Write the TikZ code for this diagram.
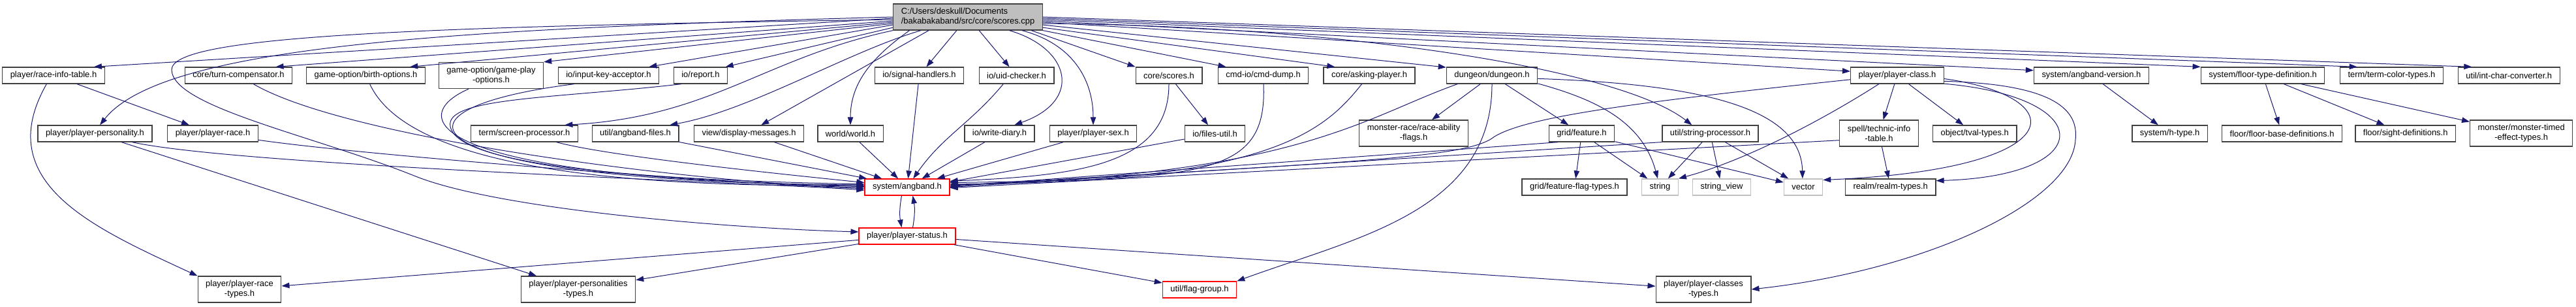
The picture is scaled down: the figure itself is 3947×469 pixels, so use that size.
\documentclass[tikz,border=0pt]{standalone}
\usepackage{fontspec}
\setmainfont{Liberation Sans}
\usetikzlibrary{arrows.meta}

\definecolor{edgeblue}{HTML}{191970}
\definecolor{boxline}{HTML}{404040}
\definecolor{rootgray}{HTML}{BFBFBF}
\definecolor{stdline}{HTML}{BFBFBF}

\tikzset{
  hdr/.style={draw=boxline, fill=white, line width=1.3pt, minimum height=25pt,
    inner xsep=12pt, inner ysep=0pt, align=center,
    font=\fontsize{12.95}{15}\selectfont},
  hdrtwo/.style={hdr, minimum height=40pt},
  redhdr/.style={hdr, draw=red},
  stdhdr/.style={hdr, draw=stdline},
  srcfile/.style={hdr, fill=rootgray, minimum height=40pt, align=left},
  incl/.style={draw=edgeblue, line width=1pt, -{Triangle[length=12pt,width=8.5pt]}},
}

\begin{document}
\begin{tikzpicture}[x=1pt,y=1pt]
  \useasboundingbox (0,0) rectangle (3947,469);

  % the source file
  \node[srcfile] (root) at (1483,443) {C:/Users/deskull/Documents\\/bakabakaband/src/core/scores.cpp};

  % first row
  \node[hdr] (rit) at (82,353.5) {player/race-info-table.h};
  \node[hdr] (turn) at (365.5,353.5) {core/turn-compensator.h};
  \node[hdr] (birth) at (560.5,353.5) {game-option/birth-options.h};
  \node[hdrtwo] (gplay) at (752.5,353.5) {game-option/game-play\\-options.h};
  \node[hdr] (inkey) at (932.5,353.5) {io/input-key-acceptor.h};
  \node[hdr] (report) at (1073.5,353.5) {io/report.h};
  \node[hdr] (signal) at (1408.5,353.5) {io/signal-handlers.h};
  \node[hdr] (uid) at (1557.5,353.5) {io/uid-checker.h};
  \node[hdr] (scoresh) at (1791,353.5) {core/scores.h};
  \node[hdr] (dump) at (1935.5,353.5) {cmd-io/cmd-dump.h};
  \node[hdr] (asking) at (2098,353.5) {core/asking-player.h};
  \node[hdr] (dungeon) at (2286,353.5) {dungeon/dungeon.h};
  \node[hdr] (pclass) at (2907,353.5) {player/player-class.h};
  \node[hdr] (version) at (3204.4,353.5) {system/angband-version.h};
  \node[hdr] (floordef) at (3467,353.5) {system/floor-type-definition.h};
  \node[hdr] (tcolor) at (3664.4,353.5) {term/term-color-types.h};
  \node[hdr] (intchar) at (3844.3,353.5) {util/int-char-converter.h};

  % second row
  \node[hdr] (ppers) at (145.5,264.5) {player/player-personality.h};
  \node[hdr] (prace) at (326,264.5) {player/player-race.h};
  \node[hdr] (screen) at (803.5,264.5) {term/screen-processor.h};
  \node[hdr] (afiles) at (973.5,264.5) {util/angband-files.h};
  \node[hdr] (dmsg) at (1147.5,264.5) {view/display-messages.h};
  \node[hdr] (world) at (1303,264.5) {world/world.h};
  \node[hdr] (diary) at (1531.5,264.5) {io/write-diary.h};
  \node[hdr] (psex) at (1675,264.5) {player/player-sex.h};
  \node[hdr] (filesutil) at (1861.5,264.5) {io/files-util.h};
  \node[hdrtwo] (raceflags) at (2166,265) {monster-race/race-ability\\-flags.h};
  \node[hdr] (feature) at (2423.5,264.5) {grid/feature.h};
  \node[hdr] (strproc) at (2620.5,264.5) {util/string-processor.h};
  \node[hdrtwo] (technic) at (2879,265) {spell/technic-info\\-table.h};
  \node[hdr] (tval) at (3025.7,264.5) {object/tval-types.h};
  \node[hdr] (htype) at (3324.6,264.5) {system/h-type.h};
  \node[hdr] (floorbase) at (3496.6,264.5) {floor/floor-base-definitions.h};
  \node[hdr] (sight) at (3685.7,264.5) {floor/sight-definitions.h};
  \node[hdrtwo] (mtimed) at (3863.2,265) {monster/monster-timed\\-effect-types.h};

  % third row
  \node[redhdr] (angband) at (1390,182.5) {system/angband.h};
  \node[hdr] (featflag) at (2412.5,182.5) {grid/feature-flag-types.h};
  \node[stdhdr] (string) at (2543.5,182.5) {string};
  \node[stdhdr] (strview) at (2638,182.5) {string\_view};
  \node[stdhdr] (vector) at (2763,182.5) {vector};
  \node[hdr] (realm) at (2896.7,182.5) {realm/realm-types.h};

  % bottom rows
  \node[redhdr] (pstatus) at (1390,107.5) {player/player-status.h};
  \node[hdrtwo] (prtypes) at (367,26) {player/player-race\\-types.h};
  \node[hdrtwo] (pptypes) at (886,26) {player/player-personalities\\-types.h};
  \node[redhdr] (flaggroup) at (1838,25.5) {util/flag-group.h};
  \node[hdrtwo] (pctypes) at (2610,26) {player/player-classes\\-types.h};

  % scores.cpp includes, left side
  \draw[incl] (root.181) -- (rit.12);
  \draw[incl] (root.180) .. controls (700,425) and (250,400) .. (ppers.60);
  \draw[incl] (root.182) .. controls (600,428) and (262,412) .. (263,362)
    .. controls (265,305) and (480,262) .. (637,199)
    .. controls (760,150) and (1100,120) .. (pstatus.175);
  \draw[incl] (root.183) -- (turn.13);
  \draw[incl] (root.184) -- (birth.11);
  \draw[incl] (root.185) -- (gplay.north east);
  \draw[incl] (root.186) -- (inkey.12);
  \draw[incl] (root.188) -- (report.19);
  \draw[incl] (root.south west) .. controls (1170,380) and (1090,290) .. (screen.12);
  \draw[incl] (root.196) .. controls (1300,390) and (1150,300) .. (afiles.14);
  \draw[incl] (root.199) -- (dmsg.35);
  \draw[incl] (root.193) .. controls (1340,384) and (1303,345) .. (world.north);
  \draw[incl] (root) -- (signal);
  \draw[incl] (root) -- (uid);
  \draw[incl] (root.342) .. controls (1640,395) and (1660,315) .. (diary.30);
  \draw[incl] (root.346) .. controls (1650,400) and (1675,340) .. (psex.north);

  % scores.cpp includes, right side
  \draw[incl] (root.348) -- (scoresh.north west);
  \draw[incl] (root.south east) -- (dump.167);
  \draw[incl] (root.352) -- (asking.166);
  \draw[incl] (root.354) -- (dungeon.170);
  \draw[incl] (root.355) .. controls (2050,430) and (2480,365) .. (strproc.155);
  \draw[incl] (root.356) -- (pclass.175);
  \draw[incl] (root.357) -- (version.175);
  \draw[incl] (root.358) -- (floordef.north west);
  \draw[incl] (root.359) -- (tcolor.166);
  \draw[incl] (root.east) -- (intchar.167);

  % left headers down to angband.h
  \draw[incl] (rit) -- (prace);
  \draw[incl] (rit.231) .. controls (-15,189) and (144,120) .. (prtypes.north west);
  \draw[incl] (ppers) -- (pptypes);
  \draw[incl] (ppers.347) .. controls (371,215) and (1149,190) .. (angband.184);
  \draw[incl] (prace.352) .. controls (575,229) and (1143,187) .. (angband.182);
  \draw[incl] (turn.330) .. controls (548,248) and (1140,183) .. (angband.180);
  \draw[incl] (birth.295) .. controls (642,177) and (1144,187) .. (angband.179);
  \draw[incl] (gplay.211) .. controls (620,290) and (650,195) .. (angband.178);
  \draw[incl] (inkey.194) .. controls (560,300) and (620,190) .. (angband.177);
  \draw[incl] (report.204) .. controls (850,318) and (680,320) .. (690,275)
    .. controls (700,225) and (900,195) .. (angband.176);
  \draw[incl] (screen.345) .. controls (940,228) and (1232,199) .. (angband.174);
  \draw[incl] (afiles) -- (angband.168);
  \draw[incl] (dmsg) -- (angband);
  \draw[incl] (world) -- (angband);
  \draw[incl] (signal) -- (angband);
  \draw[incl] (uid.213) .. controls (1487,280) and (1444,260) .. (angband.55);
  \draw[incl] (diary) -- (angband);
  \draw[incl] (psex) -- (angband);

  % right headers back to angband.h
  \draw[incl] (scoresh.south) .. controls (1791,215) and (1650,200) .. (angband.8);
  \draw[incl] (scoresh) -- (filesutil);
  \draw[incl] (filesutil) -- (angband.7);
  \draw[incl] (dump.272) .. controls (1942,200) and (1850,195) .. (angband.6);
  \draw[incl] (asking.229) .. controls (2030,270) and (1950,190) .. (angband.4);
  \draw[incl] (dungeon.194) .. controls (2090,290) and (1990,200) .. (angband.3);
  \draw[incl] (pclass.185) .. controls (2500,312) and (2340,290) .. (2290,260)
    .. controls (2250,228) and (2100,222) .. (angband.2);
  \draw[incl] (feature.200) -- (angband.1);
  \draw[incl] (strproc.190) -- (angband.0);
  \draw[incl] (technic.190) -- (angband.359);

  % dungeon.h
  \draw[incl] (dungeon) -- (raceflags);
  \draw[incl] (dungeon) -- (feature);
  \draw[incl] (dungeon.350) .. controls (2444,317) and (2516,284) .. (string.105);
  \draw[incl] (dungeon.356) .. controls (2620,340) and (2760,300) .. (vector.95);
  \draw[incl] (dungeon.south) .. controls (2286,145) and (2077,105) .. (flaggroup.north east);

  % grid/feature.h and util/string-processor.h
  \draw[incl] (feature) -- (featflag);
  \draw[incl] (feature) -- (string);
  \draw[incl] (feature) -- (vector);
  \draw[incl] (strproc) -- (string);
  \draw[incl] (strproc) -- (strview);
  \draw[incl] (strproc) -- (vector);

  % player/player-class.h
  \draw[incl] (pclass) -- (technic);
  \draw[incl] (pclass) -- (tval);
  \draw[incl] (pclass.205) .. controls (2800,290) and (2680,225) .. (string.north east);
  \draw[incl] (pclass.350) .. controls (3215,320) and (3215,200) .. (realm.8);
  \draw[incl] (pclass.356) .. controls (3180,320) and (3175,210) .. (vector.20);
  \draw[incl] (pclass.353) .. controls (3150,340) and (3185,300) .. (3180,255)
    .. controls (3175,160) and (2950,55) .. (pctypes.east);
  \draw[incl] (technic) -- (realm);

  % system and floor headers
  \draw[incl] (version) -- (htype);
  \draw[incl] (floordef) -- (floorbase);
  \draw[incl] (floordef) -- (sight);
  \draw[incl] (floordef) -- (mtimed);

  % angband.h and player-status.h
  \draw[incl] (angband.237) to[bend right=10] (pstatus.123);
  \draw[incl] (pstatus.57) to[bend right=10] (angband.303);
  \draw[incl] (pstatus) -- (prtypes);
  \draw[incl] (pstatus) -- (pptypes);
  \draw[incl] (pstatus) -- (flaggroup);
  \draw[incl] (pstatus) -- (pctypes);
\end{tikzpicture}
\end{document}
